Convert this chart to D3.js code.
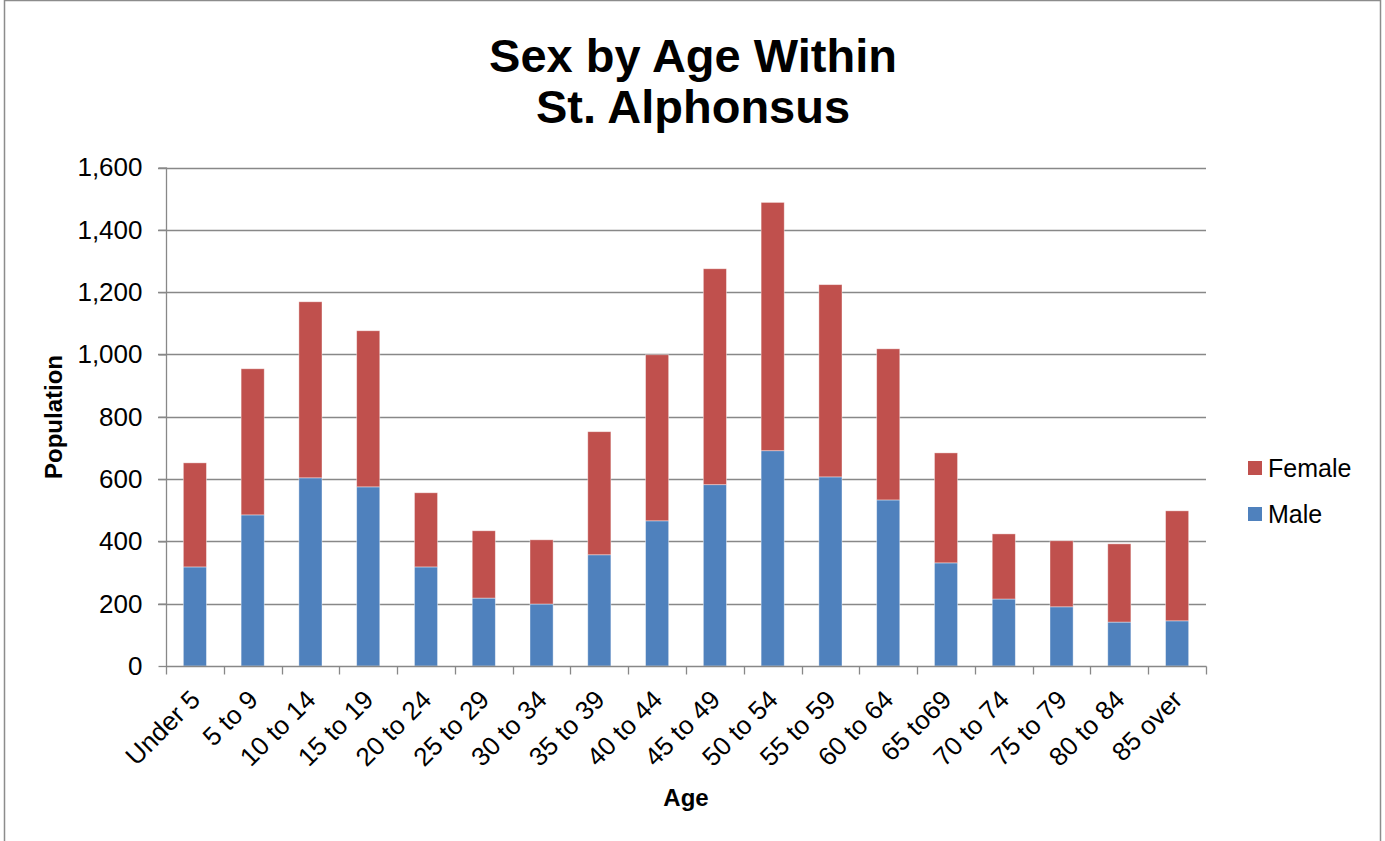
<!DOCTYPE html>
<html><head><meta charset="utf-8">
<script src="https://cdn.jsdelivr.net/npm/d3@7"></script>
<style>body{margin:0;background:#fff}svg{display:block;font-family:"Liberation Sans",Arial,sans-serif}</style>
</head><body><svg id="c" width="1385" height="841"></svg>
<script>
const categories = ["Under 5","5 to 9","10 to 14","15 to 19","20 to 24","25 to 29","30 to 34","35 to 39","40 to 44","45 to 49","50 to 54","55 to 59","60 to 64","65 to69","70 to 74","75 to 79","80 to 84","85 over"];
const male   = [318,485,604,575,318,218,199,357,466,582,691,607,533,331,215,190,141,145];
const female = [334,469,565,501,238,216,206,395,533,693,797,617,485,353,209,212,251,353];
const yTicks = [0,200,400,600,800,1000,1200,1400,1600];
const seriesNames = ["Male","Female"];
const colors = {Male:"#4F81BD", Female:"#C0504D"};

const svg = d3.select("#c");
svg.append("rect").attr("x",4.5).attr("y",0.5).attr("width",1376).attr("height",845).attr("fill","#fff").attr("stroke","#8c8c8c").attr("stroke-width",1.5);

const m = {l:166, r:1206, t:167.5, b:666};
const x = d3.scaleBand().domain(categories).range([m.l,m.r]).paddingInner(0.6).paddingOuter(0.3);
const y = d3.scaleLinear().domain([0,1600]).range([m.b,m.t]);

// gridlines
svg.append("g").selectAll("line").data(yTicks.filter(d=>d>0)).join("line")
  .attr("x1",m.l-8).attr("x2",m.r).attr("y1",d=>Math.round(y(d))+0.5).attr("y2",d=>Math.round(y(d))+0.5)
  .attr("stroke","#888").attr("stroke-width",1.3);

const rows = categories.map((c,i)=>({cat:c, Male:male[i], Female:female[i]}));
const stack = d3.stack().keys(seriesNames)(rows);
svg.append("g").selectAll("g").data(stack).join("g").attr("fill",d=>colors[d.key])
  .selectAll("rect").data(d=>d).join("rect")
  .attr("x",d=>x(d.data.cat)).attr("width",x.bandwidth())
  .attr("y",d=>y(d[1])).attr("height",d=>y(d[0])-y(d[1]))
  .attr("stroke","rgba(255,255,255,0.5)").attr("stroke-width",0.8);

// y axis
const ya = svg.append("g").attr("transform",`translate(${m.l+0.5},0)`)
  .call(d3.axisLeft(y).tickValues(yTicks).tickFormat(d3.format(",")).tickSize(8).tickPadding(16));
ya.select(".domain").attr("stroke","#888").attr("stroke-width",1.3).attr("d",`M0,${m.t}V${m.b}`);
ya.selectAll(".tick line").attr("stroke","#888").attr("stroke-width",1.3);
ya.selectAll("text").attr("font-size",26).attr("fill","#000").attr("font-family","Liberation Sans, Arial, sans-serif");

// x axis
const xa = svg.append("g").attr("transform",`translate(0,${m.b+0.5})`);
xa.append("line").attr("x1",m.l).attr("x2",m.r+0.5).attr("stroke","#888").attr("stroke-width",1.3);
const tickXs = d3.range(categories.length+1).map(i=>m.l+i*(m.r-m.l)/categories.length);
xa.selectAll("line.t").data(tickXs).join("line").attr("class","t")
  .attr("x1",d=>Math.round(d)+0.5).attr("x2",d=>Math.round(d)+0.5).attr("y1",0).attr("y2",8)
  .attr("stroke","#888").attr("stroke-width",1.3);
xa.selectAll("text").data(categories).join("text")
  .attr("transform",d=>`translate(${x(d)+x.bandwidth()/2-6},${22}) rotate(-45)`)
  .attr("text-anchor","end").attr("dy","0.7em").attr("font-size",26).attr("fill","#000")
  .text(d=>d);

// titles
const title = svg.append("text").attr("x",693).attr("text-anchor","middle").attr("font-size",47).attr("font-weight","bold");
title.append("tspan").attr("x",693).attr("y",72).text("Sex by Age Within");
title.append("tspan").attr("x",693).attr("y",123).text("St. Alphonsus");
svg.append("text").attr("x",686).attr("y",806).attr("text-anchor","middle").attr("font-size",24).attr("font-weight","bold").text("Age");
svg.append("text").attr("transform","translate(62,417) rotate(-90)").attr("text-anchor","middle").attr("font-size",24).attr("font-weight","bold").text("Population");

// legend
const leg = svg.append("g");
["Female","Male"].forEach((k,i)=>{
  const yy = 461 + i*46;
  leg.append("rect").attr("x",1248).attr("y",yy).attr("width",14).attr("height",14).attr("fill",colors[k]);
  leg.append("text").attr("x",1268).attr("y",yy+16).attr("font-size",25).text(k);
});
</script></body></html>
